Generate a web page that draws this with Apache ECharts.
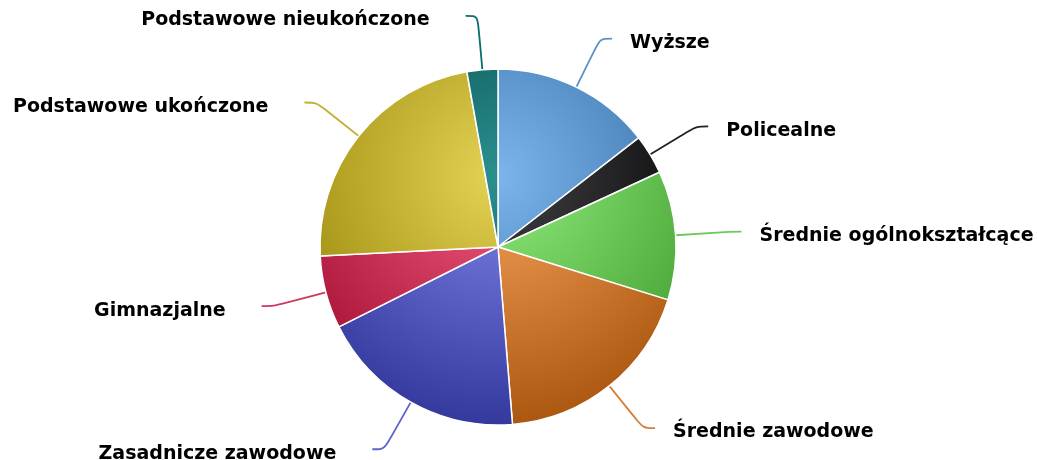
<!doctype html>
<html>
<head>
<meta charset="utf-8">
<title>Wykształcenie</title>
<style>
    html, body { margin: 0; padding: 0; background: #fff; }
    #main { width: 1038px; height: 460px; }
</style>
</head>
<body>
<div id="main"></div>
<script src="https://cdn.jsdelivr.net/npm/echarts@6/dist/echarts.min.js"></script>
<script>
    var categories = [
        'Wyższe',
        'Policealne',
        'Średnie ogólnokształcące',
        'Średnie zawodowe',
        'Zasadnicze zawodowe',
        'Gimnazjalne',
        'Podstawowe ukończone',
        'Podstawowe nieukończone'
    ];
    var values = [14.5, 3.6, 11.7, 18.9, 18.9, 6.6, 23.0, 2.8];
    var colors = ['#7cb5ec', '#434348', '#90ed7d', '#f7a35c', '#8085e9', '#f15c80', '#e4d354', '#2b908f'];

    var CX = 498, CY = 247, R = 178;

    function darken(hex, amt) {
        var n = parseInt(hex.slice(1), 16);
        var r = Math.max(0, (n >> 16) - amt);
        var g = Math.max(0, ((n >> 8) & 255) - amt);
        var b = Math.max(0, (n & 255) - amt);
        return 'rgb(' + r + ',' + g + ',' + b + ')';
    }

    var chart = echarts.init(document.getElementById('main'));

    // labels on the left side sit a bit further from the connector
    var total = values.reduce(function (a, b) { return a + b; }, 0);
    var acc = 0;
    var data = categories.map(function (name, i) {
        var mid = (acc + values[i] / 2) / total;
        acc += values[i];
        var leftSide = mid > 0.5;
        return {
            name: name,
            value: values[i],
            itemStyle: {
                color: {
                    type: 'radial',
                    x: CX, y: CY - R + 0.3 * 2 * R, r: 0.7 * 2 * R,
                    global: true,
                    colorStops: [
                        { offset: 0, color: colors[i] },
                        { offset: 1, color: darken(colors[i], 76) }
                    ]
                }
            },
            label: { padding: leftSide ? [0, 18, 0, 0] : 0 },
            labelLine: { lineStyle: { color: darken(colors[i], 35) } }
        };
    });

    chart.setOption({
        backgroundColor: '#fff',
        animation: false,
        series: [{
            type: 'pie',
            center: [CX, CY],
            radius: R,
            startAngle: 90,
            clockwise: true,
            avoidLabelOverlap: false,
            itemStyle: {
                borderColor: '#fff',
                borderWidth: 1.5
            },
            label: {
                formatter: '{t|{b}}',
                overflow: 'none',
                distanceToLabelLine: 18,
                rich: {
                    t: {
                        color: '#000',
                        fontFamily: 'DejaVu Sans',
                        fontWeight: 'bold',
                        fontSize: 19,
                        padding: [9, 0, 0, 0]
                    }
                }
            },
            labelLine: {
                length: 54,
                length2: 12,
                smooth: 0.3,
                lineStyle: { width: 1.8 }
            },
            data: data
        }]
    });

    window.addEventListener('resize', function () {
        chart.resize();
    });
</script>
</body>
</html>
